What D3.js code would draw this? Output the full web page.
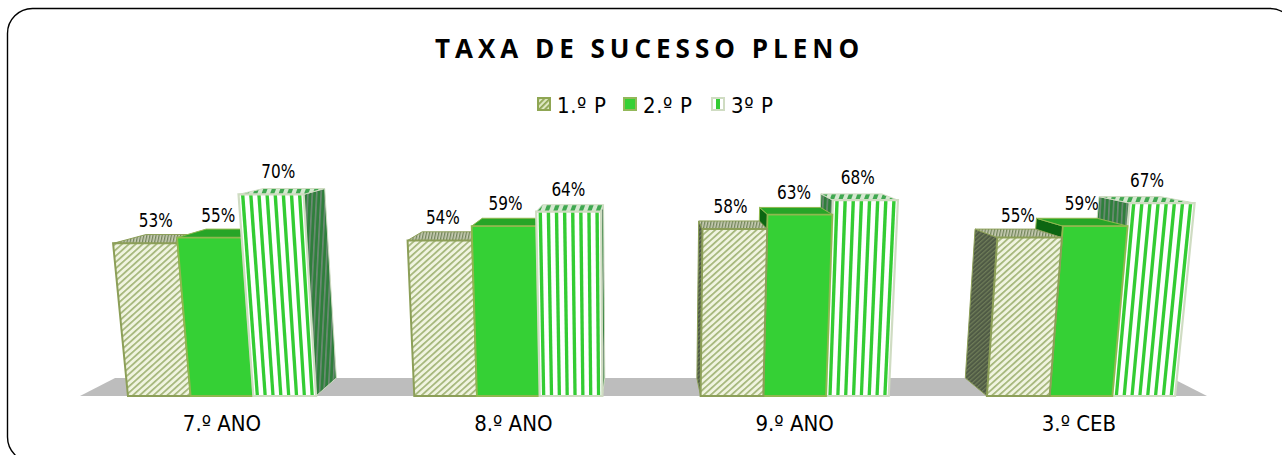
<!DOCTYPE html>
<html>
<head>
<meta charset="utf-8">
<script src="https://cdn.jsdelivr.net/npm/d3@7"></script>
<style>
  html, body { margin: 0; padding: 0; background: #fff; overflow: hidden; }
  text { font-family: "DejaVu Sans Condensed", "DejaVu Sans", sans-serif; fill: #000; }
  text.title { font-family: "Open Sans", "Noto Sans", sans-serif; }
</style>
</head>
<body>
<div id="chart"></div>
<script>
var svgWidth = 1282;
var svgHeight = 455;

var categories = ["7.º ANO", "8.º ANO", "9.º ANO", "3.º CEB"];
var seriesNames = ["1.º P", "2.º P", "3º P"];
var firstPeriod = [53, 54, 58, 55];
var secondPeriod = [55, 59, 63, 59];
var thirdPeriod = [70, 64, 68, 67];
var seriesValues = [firstPeriod, secondPeriod, thirdPeriod];

var svg = d3.select("#chart")
  .append("svg")
  .attr("width", svgWidth)
  .attr("height", svgHeight);

var defs = svg.append("defs");

// hatch / stripe fills
function addPattern(id, size, rotate, bg, fg, lineWidth) {
  var p = defs.append("pattern")
    .attr("id", id)
    .attr("patternUnits", "userSpaceOnUse")
    .attr("width", size)
    .attr("height", size)
    .attr("patternTransform", `rotate(${rotate})`);
  p.append("rect").attr("width", size).attr("height", size).attr("fill", bg);
  p.append("rect").attr("width", lineWidth).attr("height", size).attr("fill", fg);
}
addPattern("hatchFront", 4.6, 48, "#f0f4e0", "#a3b578", 1.7);
addPattern("hatchSide", 3.2, 48, "#4f5a45", "#6f7d58", 1.2);
addPattern("hatchTop", 3, 12, "#c9cdb4", "#71845a", 1.3);
addPattern("stripeSide", 4.4, 3, "#2f7f3c", "#6d8a74", 1.6);
addPattern("stripeTop", 8, 20, "#d5e8d0", "#3fa850", 4);
addPattern("legendHatch", 4, 45, "#dfe8c4", "#8fa653", 1.8);

// scales
var xGroup = d3.scaleBand()
  .domain(categories)
  .range([78.85, 1224.15])
  .paddingInner(0.343)
  .paddingOuter(0.1715);

var xBar = d3.scaleBand()
  .domain(d3.range(seriesNames.length))
  .range([0, xGroup.bandwidth()]);

var yHeight = d3.scaleLinear().domain([0, 100]).range([0, 288]);

// the 3D view: bars fan out from the middle with height and shrink with depth
var baseY = 396;
var centerX = 641;
var fan = 0.00019;
var depthShrink = 0.0625;
var floorDepth = 18;

function project(xb, h, d) {
  return [
    centerX + (xb - centerX) * (1 + fan * h) * (1 - depthShrink * d),
    baseY - h - d * (floorDepth - 0.06 * h)
  ];
}

function poly(points) {
  return points.map(p => p.join(",")).join(" ");
}

// rounded frame, right and bottom edges run off the picture
svg.append("rect")
  .attr("x", 7.5)
  .attr("y", 8.5)
  .attr("width", 1287.5)
  .attr("height", 453.5)
  .attr("rx", 25)
  .attr("fill", "#fff")
  .attr("stroke", "#000")
  .attr("stroke-width", 1.4);

// floor
var floorLeft = 80, floorRight = 1207;
svg.append("polygon")
  .attr("points", poly([
    project(floorLeft, 0, 0), project(floorRight, 0, 0),
    project(floorRight, 0, 1), project(floorLeft, 0, 1)
  ]))
  .attr("fill", "#bdbdbd");

var styles = [
  { front: "url(#hatchFront)", side: "url(#hatchSide)", top: "url(#hatchTop)", stroke: "#8c9f58", sw: 2 },
  { front: "#35d035", side: "#0c6612", top: "#27a527", stroke: "#8fb84f", sw: 1.8 },
  { front: "#fff", side: "url(#stripeSide)", top: "url(#stripeTop)", stroke: "#cfdcc2", sw: 2.2 }
];

var stripeCount = 8;

function drawBar(g, x0, x1, h, s) {
  var style = styles[s];
  // visible side first, then top, front last
  var sideX = x0 > centerX ? x0 : x1;
  g.append("polygon")
    .attr("points", poly([project(sideX, 0, 0), project(sideX, h, 0), project(sideX, h, 1), project(sideX, 0, 1)]))
    .attr("fill", style.side)
    .attr("stroke", style.stroke)
    .attr("stroke-width", 1);

  g.append("polygon")
    .attr("points", poly([project(x0, h, 1), project(x1, h, 1), project(x1, h, 0), project(x0, h, 0)]))
    .attr("fill", style.top)
    .attr("stroke", style.stroke)
    .attr("stroke-width", 1);

  g.append("polygon")
    .attr("points", poly([project(x0, 0, 0), project(x1, 0, 0), project(x1, h, 0), project(x0, h, 0)]))
    .attr("fill", style.front);

  if (s === 2) {
    var stripeX = d3.scaleLinear().domain([0, stripeCount]).range([x0, x1]);
    g.selectAll("polygon.stripe")
      .data(d3.range(stripeCount))
      .enter()
      .append("polygon")
      .attr("class", "stripe")
      .attr("points", i => poly([
        project(stripeX(i + 0.3), 0, 0), project(stripeX(i + 0.72), 0, 0),
        project(stripeX(i + 0.72), h, 0), project(stripeX(i + 0.3), h, 0)
      ]))
      .attr("fill", "#33cc33");
  }

  g.append("polygon")
    .attr("points", poly([project(x0, 0, 0), project(x1, 0, 0), project(x1, h, 0), project(x0, h, 0)]))
    .attr("fill", "none")
    .attr("stroke", style.stroke)
    .attr("stroke-width", style.sw);
}

categories.forEach(function(cat, c) {
  var groupLeft = xGroup(cat);
  var order = groupLeft > centerX ? [2, 1, 0] : [0, 1, 2];
  var group = svg.append("g");
  order.forEach(function(s) {
    var x0 = groupLeft + xBar(s);
    var x1 = x0 + xBar.bandwidth();
    drawBar(group.append("g"), x0, x1, yHeight(seriesValues[s][c]), s);
  });
});

// value labels sit over all the bars, squeezed to the narrow look of the original
categories.forEach(function(cat, c) {
  seriesNames.forEach(function(name, s) {
    var h = yHeight(seriesValues[s][c]);
    var mid = xGroup(cat) + xBar(s) + xBar.bandwidth() / 2;
    svg.append("text")
      .attr("x", project(mid, h, 0.4)[0] - 2)
      .attr("y", project(mid, h, 0)[1] - 16)
      .attr("text-anchor", "middle")
      .attr("textLength", 34)
      .attr("lengthAdjust", "spacingAndGlyphs")
      .style("font-size", "20px")
      .text(seriesValues[s][c] + "%");
  });
});

// category labels
var catNudge = [0, 5, 0, -2];
svg.selectAll("text.cat")
  .data(categories)
  .enter()
  .append("text")
  .attr("class", "cat")
  .attr("x", (d, i) => xGroup(d) + xGroup.bandwidth() / 2 + catNudge[i])
  .attr("y", 431)
  .attr("text-anchor", "middle")
  .style("font-size", "22px")
  .text(d => d);

// title
svg.append("text")
  .attr("class", "title")
  .attr("x", 649.5)
  .attr("y", 58)
  .attr("text-anchor", "middle")
  .style("font-size", "26px")
  .style("font-weight", "bold")
  .style("letter-spacing", "5px")
  .text("TAXA DE SUCESSO PLENO");

// legend
var legendX = [538, 624, 712];
var legendFill = ["url(#legendHatch)", "#35d035", "#fff"];
var legendStroke = ["#8fa653", "#93b85a", "#cfdcc2"];
var legend = svg.selectAll("g.legend")
  .data(seriesNames)
  .enter()
  .append("g")
  .attr("class", "legend")
  .attr("transform", (d, i) => `translate(${legendX[i]}, 98)`);

legend.append("rect")
  .attr("width", 12)
  .attr("height", 12)
  .attr("fill", (d, i) => legendFill[i])
  .attr("stroke", (d, i) => legendStroke[i])
  .attr("stroke-width", 2);

legend.filter((d, i) => i === 2)
  .append("rect")
  .attr("x", 4)
  .attr("y", 1)
  .attr("width", 4)
  .attr("height", 10)
  .attr("fill", "#33cc33");

legend.append("text")
  .attr("x", 19)
  .attr("y", 15)
  .style("font-size", "22px")
  .style("letter-spacing", "0.6px")
  .text(d => d);
</script>
</body>
</html>
